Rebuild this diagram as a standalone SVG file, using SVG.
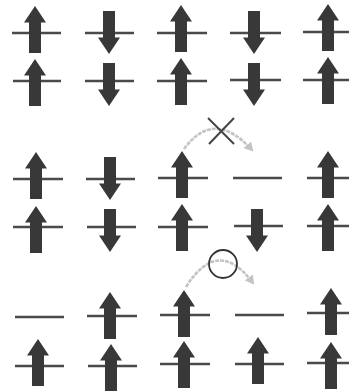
<svg xmlns="http://www.w3.org/2000/svg" width="349" height="392" viewBox="0 0 349 392">
<style>
.lv{stroke:#4a4a4a;stroke-width:2.6;fill:none}
.ar{fill:#383838}
.hop{stroke:#c4c4c4;stroke-width:2.6;fill:none;stroke-dasharray:4 1}
.mk{stroke:#444;stroke-width:2;fill:none}
</style>
<defs>
<polygon id="up" class="ar" points="0,0 11,16.5 6,16.5 6,47 -6,47 -6,16.5 -11,16.5"/>
<polygon id="dn" class="ar" points="0,0 11,-16.5 6,-16.5 6,-43 -6,-43 -6,-16.5 -11,-16.5"/>
<marker id="ah" markerWidth="10" markerHeight="10" refX="7" refY="5" orient="auto" markerUnits="userSpaceOnUse">
<path d="M0,0 L9,5 L0,10 Z" fill="#c4c4c4"/>
</marker>
</defs>
<rect width="349" height="392" fill="#fff"/>

<!-- Row 1 -->
<g id="r1c1"><line class="lv" x1="12" y1="33" x2="61" y2="33"/><use href="#up" x="35" y="6"/></g>
<g id="r1c2"><line class="lv" x1="85" y1="33" x2="134" y2="33"/><use href="#dn" x="109" y="54"/></g>
<g id="r1c3"><line class="lv" x1="157" y1="33" x2="207" y2="33"/><use href="#up" x="181" y="5"/></g>
<g id="r1c4"><line class="lv" x1="230" y1="33" x2="281" y2="33"/><use href="#dn" x="254" y="54"/></g>
<g id="r1c5"><line class="lv" x1="303" y1="32" x2="349" y2="32"/><use href="#up" x="328" y="4"/></g>

<!-- Row 2 -->
<g id="r2c1"><line class="lv" x1="13" y1="81" x2="61" y2="81"/><use href="#up" x="35" y="59"/></g>
<g id="r2c2"><line class="lv" x1="85" y1="81" x2="134" y2="81"/><use href="#dn" x="109" y="106"/></g>
<g id="r2c3"><line class="lv" x1="157" y1="81" x2="207" y2="81"/><use href="#up" x="181" y="58"/></g>
<g id="r2c4"><line class="lv" x1="230" y1="80" x2="281" y2="80"/><use href="#dn" x="254" y="106"/></g>
<g id="r2c5"><line class="lv" x1="303" y1="80" x2="349" y2="80"/><use href="#up" x="328" y="57"/></g>

<!-- Row 3 -->
<g id="r3c1"><line class="lv" x1="13" y1="179" x2="63" y2="179"/><use href="#up" x="36" y="152"/></g>
<g id="r3c2"><line class="lv" x1="86" y1="179" x2="135" y2="179"/><use href="#dn" x="110" y="200"/></g>
<g id="r3c3"><line class="lv" x1="158" y1="178" x2="208" y2="178"/><use href="#up" x="182" y="151"/></g>
<g id="r3c4"><line class="lv" x1="233" y1="178" x2="282" y2="178"/></g>
<g id="r3c5"><line class="lv" x1="307" y1="178" x2="349" y2="178"/><use href="#up" x="328" y="151"/></g>

<!-- Row 4 -->
<g id="r4c1"><line class="lv" x1="13" y1="227" x2="63" y2="227"/><use href="#up" x="36" y="206"/></g>
<g id="r4c2"><line class="lv" x1="87" y1="227" x2="136" y2="227"/><use href="#dn" x="110" y="252"/></g>
<g id="r4c3"><line class="lv" x1="158" y1="227" x2="208" y2="227"/><use href="#up" x="182" y="204"/></g>
<g id="r4c4"><line class="lv" x1="234" y1="226" x2="283" y2="226"/><use href="#dn" x="257" y="252"/></g>
<g id="r4c5"><line class="lv" x1="307" y1="226" x2="349" y2="226"/><use href="#up" x="328" y="204"/></g>

<!-- Row 5 -->
<g id="r5c1"><line class="lv" x1="15" y1="317" x2="64" y2="317"/></g>
<g id="r5c2"><line class="lv" x1="87" y1="316" x2="137" y2="316"/><use href="#up" x="110" y="292"/></g>
<g id="r5c3"><line class="lv" x1="160" y1="315" x2="210" y2="315"/><use href="#up" x="184" y="290"/></g>
<g id="r5c4"><line class="lv" x1="235" y1="315" x2="284" y2="315"/></g>
<g id="r5c5"><line class="lv" x1="307" y1="313" x2="349" y2="313"/><use href="#up" x="331" y="288"/></g>

<!-- Row 6 -->
<g id="r6c1"><line class="lv" x1="15" y1="366" x2="64" y2="366"/><use href="#up" x="38" y="339"/></g>
<g id="r6c2"><line class="lv" x1="88" y1="366" x2="137" y2="366"/><use href="#up" x="111" y="344"/></g>
<g id="r6c3"><line class="lv" x1="160" y1="364" x2="210" y2="364"/><use href="#up" x="184" y="341"/></g>
<g id="r6c4"><line class="lv" x1="235" y1="364" x2="284" y2="364"/><use href="#up" x="258" y="337"/></g>
<g id="r6c5"><line class="lv" x1="307" y1="363" x2="349" y2="363"/><use href="#up" x="331" y="342"/></g>

<!-- Connectors -->
<g id="connectors">
<path class="hop" d="M184,149 Q214,108 252,150" marker-end="url(#ah)"/>
<g id="blocked"><line class="mk" x1="208" y1="118" x2="234" y2="144"/><line class="mk" x1="234" y1="118" x2="209" y2="144"/></g>
<path class="hop" d="M186,287 Q218,236 253,283" marker-end="url(#ah)"/>
<circle id="allowed" cx="223" cy="264" r="14" stroke="#333" stroke-width="1.8" fill="none"/>
</g>
</svg>
